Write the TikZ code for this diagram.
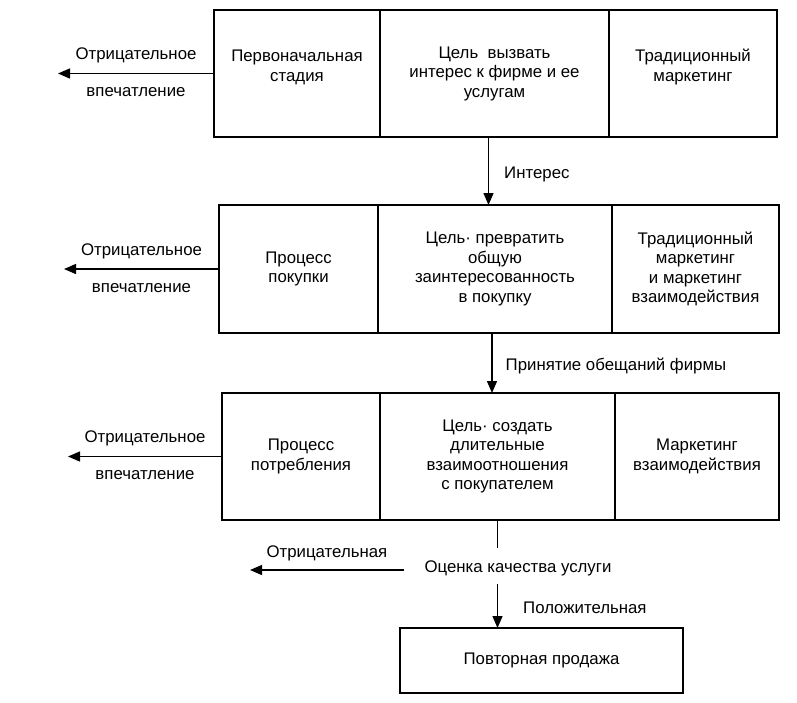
\documentclass[tikz,border=0pt]{standalone}
\usepackage{fontspec}
\setmainfont{Liberation Sans}
\usetikzlibrary{positioning,arrows.meta}

\begin{document}
\begin{tikzpicture}[x=1pt,y=-1pt,line width=1.4pt,
    font=\fontsize{16.8}{19.5}\selectfont,
    cell/.style={draw,outer sep=0pt,inner sep=2pt,align=center,minimum height=127},
    lbl/.style={inner sep=2pt},
    arr/.style={-{Triangle[length=12pt,width=10pt]}}]
   \useasboundingbox (0,0) rectangle (797,702);
   % first stage
   \node[cell,minimum width=166,text depth=16pt,anchor=north west] (a1) at (214,10) {Первоначальная\\стадия};
   \node[cell,minimum width=229,right=0pt of a1] (b1) {Цель~ вызвать\\интерес к фирме и ее\\услугам};
   \node[cell,minimum width=168,text depth=16pt,right=0pt of b1] (c1) {Традиционный\\маркетинг};
   %
   \node[cell,minimum width=159,minimum height=128,anchor=north west] (a2) at (219,205) {Процесс\\покупки};
   \node[cell,minimum width=234,minimum height=128,right=0pt of a2] (b2) {Цель· превратить\\общую\\заинтересованность\\в покупку};
   \node[cell,minimum width=167,minimum height=128,right=0pt of b2] (c2) {Традиционный\\маркетинг\\и маркетинг\\взаимодействия};
   %
   \node[cell,minimum width=158,anchor=north west] (a3) at (222,393) {Процесс\\потребления};
   \node[cell,minimum width=235,right=0pt of a3] (b3) {Цель· создать\\длительные\\взаимоотношения\\с покупателем};
   \node[cell,minimum width=164,right=0pt of b3] (c3) {Маркетинг\\взаимодействия};
   %
   \node[lbl] (q) at (518,568) {Оценка качества услуги};
   \node[cell,minimum width=283,minimum height=65,anchor=north west] (r) at (400,628) {Повторная продажа};
   % negative impressions
   \coordinate (n1) at (58,0);
   \coordinate (n2) at (64,0);
   \coordinate (n3) at (68,0);
   \coordinate (n4) at (250,0);
   \coordinate (q0) at ([xshift=-18pt,yshift=-2pt]q.west);
   \draw[arr] (a1.west) -- (n1 |- a1.west)
      node[lbl,midway,yshift=18pt] {Отрицательное}
      node[lbl,midway,yshift=-19pt] {впечатление};
   \draw[arr] (a2.west) -- (n2 |- a2.west)
      node[lbl,midway,yshift=18pt] {Отрицательное}
      node[lbl,midway,yshift=-19pt] {впечатление};
   \draw[arr] (a3.west) -- (n3 |- a3.west)
      node[lbl,midway,yshift=18pt] {Отрицательное}
      node[lbl,midway,yshift=-19pt] {впечатление};
   \draw[arr] (q0) -- (n4 |- q0)
      node[lbl,midway,yshift=17pt] {Отрицательная};
   % down the stages
   \coordinate (i1) at ([xshift=-6pt]b1.south);
   \coordinate (i2) at ([xshift=-3pt]b2.south);
   \draw[arr] (i1) -- (i1 |- b2.north) node[lbl,midway,right=13pt,yshift=-3pt] {Интерес};
   \draw[arr] (i2) -- (i2 |- b3.north) node[lbl,midway,right=11pt,yshift=-3pt] {Принятие обещаний фирмы};
   \draw[shorten >=10pt] (b3.south) -- (b3.south |- q.north);
   \draw[arr,shorten <=6pt] (b3.south |- q.south) -- (b3.south |- r.north)
      node[lbl,midway,right=23pt,yshift=-5pt] {Положительная};
   %
\end{tikzpicture}
\end{document}
